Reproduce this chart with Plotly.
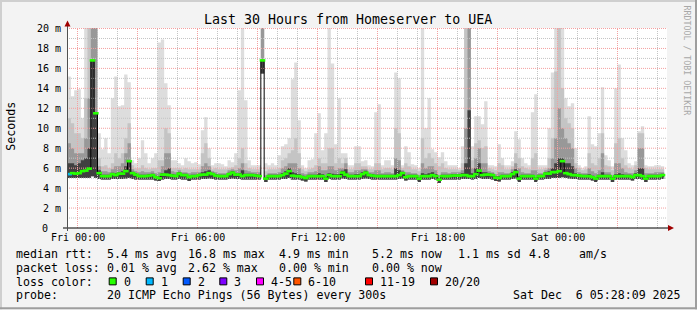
import plotly.graph_objects as go
import pandas as pd

# ---------------- data (10-minute bins, Thu 23:30 -> Sat 05:20) ----------------
median_ms = [
    5.4, 5.5, 5.45, 5.5, 5.7, 5.75, 5.95, 16.8, 11.5, 5.5,
    5.2, 5.2, 5.2, 5.4, 5.3, 5.45, 5.45, 5.7, 6.7, 5.5,
    5.35, 5.2, 5.2, 5.2, 5.25, 5.3, 5.1, 5.0, 5.35, 5.35,
    5.3, 5.25, 5.2, 5.45, 5.3, 5.3, 5.1, 5.2, 5.2, 5.3,
    5.35, 5.35, 5.5, 5.4, 5.25, 5.2, 5.2, 5.2, 5.4, 5.55,
    5.35, 5.35, 5.2, 5.3, 5.3, 5.3, 5.25, 5.2, 16.8, 4.95,
    5.2, 5.2, 5.2, 5.2, 5.3, 5.45, 5.7, 5.25, 5.2, 5.2,
    5.1, 5.0, 5.2, 5.2, 5.2, 5.2, 5.2, 4.95, 5.3, 5.2,
    5.2, 5.2, 5.55, 5.35, 5.2, 5.2, 5.2, 5.2, 5.4, 5.55,
    5.3, 5.25, 5.2, 5.2, 5.2, 5.2, 5.2, 5.2, 5.2, 5.3,
    5.5, 5.1, 5.2, 5.2, 5.2, 4.95, 5.2, 5.2, 5.2, 5.3,
    5.2, 4.85, 5.2, 5.2, 5.2, 5.25, 5.25, 5.25, 5.3, 5.3,
    5.2, 5.2, 5.4, 5.75, 5.3, 5.35, 5.35, 5.3, 5.05, 5.0,
    5.2, 5.2, 5.2, 5.4, 5.6, 4.95, 5.2, 5.2, 5.2, 5.2,
    4.95, 5.2, 5.2, 5.45, 5.45, 5.6, 5.6, 5.7, 6.7, 5.5,
    5.4, 5.3, 5.3, 5.25, 5.2, 5.2, 5.2, 5.1, 4.95, 5.2,
    5.2, 5.2, 5.2, 4.95, 5.2, 5.2, 5.2, 5.2, 5.2, 5.1,
    5.3, 5.3, 5.2, 4.95, 5.2, 5.2, 5.2, 5.2, 5.3]

smoke_max = [
    15.2, 13.2, 13.8, 13.9, 11.0, 20.5, 20.5, 20.5, 20.5, 9.5,
    7.9, 9.0, 7.5, 13.0, 15.2, 12.2, 12.3, 15.4, 14.6, 6.8,
    6.5, 7.0, 8.8, 7.5, 6.5, 7.0, 7.5, 18.6, 18.9, 14.5,
    12.3, 6.8, 6.8, 6.5, 6.3, 7.0, 6.7, 6.5, 6.6, 6.4,
    9.8, 11.1, 8.0, 6.3, 6.5, 6.5, 6.4, 6.2, 6.8, 6.6,
    7.5, 13.8, 20.5, 12.8, 6.8, 6.3, 6.3, 6.3, 20.5, 6.5,
    6.3, 6.5, 6.3, 7.3, 8.2, 8.4, 9.0, 14.9, 16.6, 10.8,
    6.3, 6.0, 6.8, 6.9, 9.5, 11.5, 7.8, 9.5, 20.5, 16.5,
    8.4, 13.0, 7.5, 7.5, 6.3, 6.3, 8.2, 8.2, 6.7, 6.8,
    6.3, 6.2, 11.6, 12.4, 6.3, 6.8, 6.8, 6.3, 15.6, 15.0,
    6.3, 8.2, 7.6, 6.4, 6.3, 6.0, 20.5, 10.0, 13.0, 7.9,
    7.6, 7.1, 7.6, 6.7, 6.3, 6.3, 6.3, 6.0, 8.2, 20.5,
    20.5, 8.2, 11.2, 11.2, 10.4, 12.7, 6.3, 6.3, 6.2, 8.4,
    7.0, 6.3, 6.3, 6.7, 9.7, 8.9, 7.0, 6.5, 6.3, 11.6,
    13.4, 6.3, 6.3, 6.3, 10.0, 15.6, 20.5, 20.5, 20.5, 13.0,
    12.2, 12.5, 8.0, 6.3, 6.0, 6.2, 11.2, 8.4, 8.2, 9.5,
    14.1, 7.3, 6.8, 6.2, 14.0, 16.4, 9.0, 7.8, 6.5, 6.3,
    6.7, 9.7, 10.2, 6.3, 6.2, 6.2, 6.3, 6.3, 6.2]

smoke_p2 = [
    11.0, 10.5, 9.5, 9.5, 9.0, 13.0, 20.5, 20.5, 20.5, 7.0,
    6.2, 6.3, 6.0, 6.5, 7.5, 7.0, 7.5, 9.0, 10.5, 6.3,
    6.0, 6.0, 6.3, 6.0, 5.9, 6.0, 6.0, 6.8, 6.8, 10.0,
    9.5, 6.0, 6.0, 6.0, 5.9, 6.0, 5.9, 5.9, 5.9, 5.9,
    7.5, 8.5, 7.0, 5.9, 6.0, 5.9, 5.9, 5.9, 6.0, 6.1,
    6.3, 7.0, 8.0, 6.5, 6.0, 5.9, 5.9, 5.9, 20.5, 5.7,
    5.9, 5.9, 5.9, 6.0, 6.8, 7.0, 7.5, 7.8, 9.0, 7.5,
    5.9, 5.7, 5.9, 6.0, 6.3, 7.0, 6.5, 6.5, 8.0, 8.0,
    6.5, 7.0, 6.5, 7.0, 5.9, 5.9, 6.5, 6.5, 6.2, 6.2,
    5.9, 5.9, 6.5, 6.5, 5.9, 6.0, 6.0, 5.9, 10.0, 9.5,
    6.0, 6.5, 6.2, 5.9, 5.9, 5.7, 9.0, 7.0, 7.5, 7.0,
    6.5, 6.2, 6.5, 6.0, 5.9, 5.9, 5.9, 5.8, 6.5, 20.5,
    20.5, 6.8, 8.5, 8.8, 8.0, 8.2, 6.0, 5.9, 5.8, 6.5,
    6.3, 5.9, 5.9, 6.2, 7.5, 7.0, 6.2, 6.0, 5.9, 7.0,
    7.5, 5.9, 5.9, 6.0, 7.0, 9.0, 15.7, 20.5, 14.0, 11.0,
    10.5, 10.0, 6.5, 6.0, 5.8, 5.9, 7.5, 6.5, 6.3, 7.0,
    9.5, 6.3, 6.2, 5.8, 8.5, 9.0, 7.0, 6.3, 6.0, 5.9,
    6.3, 9.5, 9.5, 6.0, 5.9, 5.9, 5.9, 5.9, 5.9]

smoke_p3 = [
    8.5, 8.0, 7.5, 7.5, 7.5, 9.0, 13.0, 20.5, 20.5, 6.2,
    5.7, 5.7, 5.6, 5.9, 6.2, 6.2, 6.5, 7.5, 8.5, 5.9,
    5.7, 5.6, 5.7, 5.6, 5.6, 5.7, 5.5, 5.6, 6.2, 7.5,
    7.5, 5.7, 5.6, 5.8, 5.6, 5.6, 5.5, 5.6, 5.6, 5.6,
    6.2, 6.5, 6.2, 5.7, 5.6, 5.5, 5.5, 5.5, 5.8, 5.9,
    5.8, 6.0, 6.5, 5.8, 5.7, 5.6, 5.6, 5.6, 20.5, 5.3,
    5.5, 5.5, 5.5, 5.6, 6.0, 6.2, 6.5, 6.5, 6.5, 6.0,
    5.5, 5.4, 5.6, 5.6, 5.7, 6.2, 5.8, 5.8, 6.2, 6.2,
    5.8, 6.0, 6.0, 6.5, 5.6, 5.6, 5.8, 5.8, 5.9, 5.9,
    5.6, 5.6, 5.8, 5.8, 5.5, 5.6, 5.6, 5.5, 7.0, 6.8,
    5.8, 5.6, 5.6, 5.5, 5.5, 5.3, 6.5, 6.0, 6.2, 6.2,
    5.8, 5.3, 5.6, 5.6, 5.5, 5.6, 5.6, 5.6, 5.8, 10.0,
    20.5, 6.0, 7.0, 8.0, 6.5, 6.5, 5.7, 5.6, 5.4, 5.6,
    5.6, 5.5, 5.5, 5.9, 6.5, 6.0, 5.6, 5.5, 5.5, 5.8,
    5.8, 5.5, 5.5, 5.8, 6.0, 7.0, 9.0, 12.0, 10.0, 9.0,
    8.5, 8.0, 6.0, 5.6, 5.5, 5.5, 6.0, 5.7, 5.5, 5.8,
    7.5, 5.6, 5.6, 5.3, 6.5, 6.5, 6.0, 5.6, 5.5, 5.5,
    5.8, 8.0, 8.0, 5.5, 5.5, 5.5, 5.6, 5.6, 5.6]

smoke_p4 = [
    6.5, 6.5, 6.3, 6.5, 6.8, 7.0, 8.0, 16.8, 11.5, 5.8,
    5.35, 5.35, 5.35, 5.55, 5.5, 5.6, 5.7, 6.2, 6.7, 5.65,
    5.5, 5.35, 5.35, 5.35, 5.4, 5.45, 5.25, 5.2, 5.5, 5.8,
    6.0, 5.4, 5.35, 5.6, 5.45, 5.45, 5.25, 5.35, 5.35, 5.45,
    5.6, 5.7, 5.8, 5.55, 5.4, 5.35, 5.35, 5.35, 5.55, 5.7,
    5.5, 5.5, 5.8, 5.45, 5.45, 5.45, 5.4, 5.35, 16.8, 5.1,
    5.35, 5.35, 5.35, 5.35, 5.5, 5.7, 6.0, 5.6, 5.5, 5.4,
    5.25, 5.15, 5.35, 5.35, 5.35, 5.5, 5.4, 5.15, 5.5, 5.45,
    5.4, 5.4, 5.75, 5.9, 5.35, 5.35, 5.4, 5.4, 5.6, 5.75,
    5.45, 5.4, 5.35, 5.35, 5.35, 5.35, 5.35, 5.35, 6.0, 5.8,
    5.65, 5.25, 5.35, 5.35, 5.35, 5.1, 5.5, 5.4, 5.5, 5.6,
    5.4, 5.0, 5.35, 5.35, 5.35, 5.4, 5.4, 5.4, 5.5, 6.5,
    11.8, 5.5, 6.0, 6.5, 5.6, 5.6, 5.5, 5.45, 5.2, 5.2,
    5.35, 5.35, 5.35, 5.6, 5.9, 5.2, 5.35, 5.35, 5.35, 5.35,
    5.1, 5.35, 5.35, 5.6, 5.7, 6.0, 6.5, 7.0, 7.0, 6.5,
    6.5, 6.2, 5.5, 5.4, 5.35, 5.35, 5.4, 5.25, 5.1, 5.35,
    5.6, 5.35, 5.35, 5.1, 5.4, 5.5, 5.4, 5.35, 5.35, 5.25,
    5.5, 6.0, 6.0, 5.1, 5.35, 5.35, 5.35, 5.35, 5.45]

smoke_low = [
    5.0, 5.0, 5.0, 5.0, 5.0, 5.0, 5.0, 5.2, 5.0, 4.9,
    4.85, 4.85, 4.85, 4.9, 4.9, 4.9, 4.9, 4.95, 5.0, 4.9,
    4.85, 4.85, 4.85, 4.85, 4.85, 4.85, 4.75, 4.7, 4.85, 4.9,
    4.9, 4.85, 4.85, 4.9, 4.85, 4.85, 4.7, 4.85, 4.85, 4.85,
    4.9, 4.9, 4.95, 4.9, 4.85, 4.85, 4.85, 4.85, 4.9, 4.95,
    4.9, 4.9, 4.85, 4.85, 4.85, 4.85, 4.85, 4.85, 15.5, 4.6,
    4.85, 4.85, 4.85, 4.85, 4.9, 4.9, 5.0, 4.85, 4.85, 4.85,
    4.75, 4.65, 4.85, 4.85, 4.85, 4.85, 4.85, 4.6, 4.9, 4.85,
    4.85, 4.85, 4.95, 4.9, 4.85, 4.85, 4.85, 4.85, 4.9, 4.95,
    4.9, 4.85, 4.85, 4.85, 4.85, 4.85, 4.85, 4.85, 4.85, 4.9,
    4.95, 4.75, 4.85, 4.85, 4.85, 4.6, 4.85, 4.85, 4.85, 4.9,
    4.85, 4.5, 4.85, 4.85, 4.85, 4.85, 4.85, 4.85, 4.9, 4.9,
    4.9, 4.85, 4.9, 5.0, 4.9, 4.9, 4.9, 4.85, 4.7, 4.65,
    4.85, 4.85, 4.85, 4.9, 4.95, 4.6, 4.85, 4.85, 4.85, 4.85,
    4.6, 4.85, 4.85, 4.9, 4.9, 5.0, 5.0, 5.0, 5.1, 5.0,
    4.95, 4.9, 4.9, 4.85, 4.85, 4.85, 4.85, 4.75, 4.6, 4.85,
    4.85, 4.85, 4.85, 4.6, 4.85, 4.85, 4.85, 4.85, 4.85, 4.75,
    4.9, 4.9, 4.85, 4.6, 4.85, 4.85, 4.85, 4.85, 4.9]

loss_cnt = [
    1, 0, 0, 0, 0, 0, 0, 0, 0, 0,
    0, 0, 0, 0, 0, 0, 0, 0, 0, 0,
    0, 0, 0, 0, 0, 0, 0, 0, 0, 0,
    0, 0, 0, 0, 0, 0, 0, 0, 0, 0,
    0, 0, 0, 0, 0, 0, 0, 0, 0, 0,
    0, 0, 0, 0, 0, 0, 0, 0, 0, 0,
    0, 0, 0, 0, 0, 0, 0, 0, 0, 0,
    0, 0, 0, 0, 0, 0, 0, 0, 0, 0,
    0, 0, 0, 0, 0, 0, 0, 0, 0, 0,
    0, 0, 0, 0, 0, 0, 0, 0, 0, 0,
    0, 0, 0, 0, 0, 0, 0, 0, 0, 0,
    0, 0, 0, 0, 0, 0, 0, 0, 0, 0,
    0, 0, 0, 0, 0, 0, 0, 0, 0, 0,
    0, 0, 0, 0, 0, 0, 0, 0, 0, 0,
    0, 0, 0, 0, 0, 0, 0, 0, 0, 0,
    0, 0, 0, 0, 0, 0, 0, 0, 0, 0,
    0, 0, 0, 0, 0, 0, 0, 0, 0, 0,
    0, 0, 0, 0, 0, 0, 0, 0, 0]

loss_labels = ["0", "1", "2", "3", "4-5", "6-10", "11-19", "20/20"]
loss_colors = ["#26ff00", "#00b8ff", "#0059ff", "#7e00ff", "#ff00ff", "#ff5500", "#ff0000", "#a10000"]

ytick_vals = [2, 4, 6, 8, 10, 12, 14, 16, 18, 20]
ytick_text = ["2 m", "4 m", "6 m", "8 m", "10 m", "12 m", "14 m", "16 m", "18 m", "20 m"]
ytick_zero = "0"
xtick_times = ["2025-12-05 00:00", "2025-12-05 06:00", "2025-12-05 12:00", "2025-12-05 18:00", "2025-12-06 00:00"]
xtick_text = ["Fri 00:00", "Fri 06:00", "Fri 12:00", "Fri 18:00", "Sat 00:00"]

legend_rows = [
    [("median rtt:", 16), ("5.4 ms avg", 107.3), ("16.8 ms max", 188.3), ("4.9 ms min", 279.3),
     ("5.2 ms now", 372.3), ("1.1 ms sd", 458.3), ("4.8", 529), ("am/s", 579.3)],
    [("packet loss:", 16), ("0.01 % avg", 107.3), ("2.62 % max", 188.3), ("0.00 % min", 279.3),
     ("0.00 % now", 372.3)],
    [("loss color:", 16)],
    [("probe:", 16), ("20 ICMP Echo Pings (56 Bytes) every 300s", 107.3),
     ("Sat Dec \u00a06 05:28:09 2025", 513.3)],
]
legend_row_y = [254.7, 268.3, 282.2, 296.0]
loss_box_x = [108.7, 145.7, 182.7, 219.3, 256.0, 293.3, 365.0, 430.0]

# ---------------- geometry ----------------
N = len(median_ms)
for arr in (smoke_max, smoke_p2, smoke_p3, smoke_p4, smoke_low, loss_cnt):
    assert len(arr) == N
t0 = pd.Timestamp("2025-12-04 23:30:00")
step = pd.Timedelta(minutes=10)
edges = [t0 + i * step for i in range(N + 1)]
centers = [t0 + i * step + step / 2 for i in range(N)]
x_lo = pd.Timestamp("2025-12-04 23:28:30")
x_hi = x_lo + pd.Timedelta(hours=30)
Y_TOP = 20.05

PL, PT, PW, PH = 67, 28, 600, 200.5


def px(x):
    return (x - PL) / PW


def py(y):
    return (PT + PH - y) / PH


def stepped(vals):
    return list(vals) + [vals[-1]]


fig = go.Figure()

# smoke bands
bands = [(smoke_max, "#dddddd"), (smoke_p2, "#c4c4c4"), (smoke_p3, "#989898"), (smoke_p4, "#404040")]
for top, col in bands:
    fig.add_trace(go.Scatter(x=edges, y=stepped(smoke_low), mode="lines",
                             line=dict(width=0, shape="hv"), hoverinfo="skip"))
    fig.add_trace(go.Scatter(x=edges, y=stepped(top), mode="lines",
                             line=dict(width=0, shape="hv"), fill="tonexty",
                             fillcolor=col, hoverinfo="skip"))

# grid (drawn over the smoke like rrdtool)
fri0 = pd.Timestamp("2025-12-05 00:00")
vmaj_x, vmaj_y, vmin_x, vmin_y = [], [], [], []
for h in range(30):
    t = fri0 + pd.Timedelta(hours=h)
    if t > x_hi:
        break
    if h % 3 == 0:
        vmaj_x += [t, t, None]; vmaj_y += [0, Y_TOP, None]
    else:
        vmin_x += [t, t, None]; vmin_y += [0, Y_TOP, None]
hmaj_x, hmaj_y, hmin_x, hmin_y = [], [], [], []
for k in range(1, 21):
    if k % 2 == 0:
        hmaj_x += [x_lo, x_hi, None]; hmaj_y += [k, k, None]
    else:
        hmin_x += [x_lo, x_hi, None]; hmin_y += [k, k, None]
GRID = "#c4c4c4"
MGRID = "#f4a0a0"
for xs, ys, c in [(vmin_x, vmin_y, GRID), (hmin_x, hmin_y, GRID), (vmaj_x, vmaj_y, MGRID), (hmaj_x, hmaj_y, MGRID)]:
    fig.add_trace(go.Scatter(x=xs, y=ys, mode="lines", line=dict(color=c, width=1, dash="1px,1px"),
                             hoverinfo="skip", connectgaps=False))

# median: black step line + loss-coloured dashes
fig.add_trace(go.Scatter(x=edges, y=stepped(median_ms), mode="lines",
                         line=dict(color="#000000", width=1, shape="hv"), hoverinfo="skip"))
fig.add_trace(go.Scatter(x=centers, y=median_ms, mode="markers",
                         marker=dict(symbol="line-ew", size=4,
                                     line=dict(width=2.6, color=[loss_colors[c] for c in loss_cnt])),
                         hoverinfo="skip", cliponaxis=True))

MONO = "DejaVu Sans Mono"
ann = []


def text(t, x, y, size, xanchor="left", color="#000000", angle=0, xref="paper", yref="paper"):
    ann.append(dict(text=t, x=x, y=y, xref=xref, yref=yref, xanchor=xanchor, yanchor="middle",
                    showarrow=False, textangle=angle, borderpad=0, borderwidth=0,
                    font=dict(family=MONO, size=size, color=color)))


text("Last 30 Hours from Homeserver to UEA", px(348), py(19), 13.3, "center")
for v, tt in zip(ytick_vals, ytick_text):
    text(tt, px(61), v, 10, "right", yref="y")
text(ytick_zero, px(45), 0, 10, "center", yref="y")
for t, tt in zip(xtick_times, xtick_text):
    text(tt, pd.Timestamp(t), py(237.8), 10, "center", xref="x")
text("Seconds", px(11), py(127), 11.6, "center", angle=-90)
text("RRDTOOL / TOBI OETIKER", px(687.5), py(60), 8.3, "center", color="#a8a8a8", angle=90)
for row, yy in zip(legend_rows, legend_row_y):
    for s, xx in row:
        text(s, px(xx - 0.5), py(yy), 11.6)
for lab, col, bx in zip(loss_labels, loss_colors, loss_box_x):
    text(lab, px(bx + 15.3 - 0.5), py(legend_row_y[2]), 11.6)

shapes = []
for lab, col, bx in zip(loss_labels, loss_colors, loss_box_x):
    shapes.append(dict(type="rect", xref="paper", yref="paper", x0=px(bx + 0.5), x1=px(bx + 7.5),
                       y0=py(278.5), y1=py(285.5), fillcolor=col, line=dict(color="#000000", width=1)))


def pth(pts):
    return "M " + " L ".join(f"{px(a):.5f},{py(b):.5f}" for a, b in pts) + " Z"


# axes + arrows
shapes.append(dict(type="line", xref="paper", yref="paper", x0=px(63), x1=px(669), y0=py(228.5), y1=py(228.5),
                   line=dict(color="#000000", width=1), layer="above"))
shapes.append(dict(type="line", xref="paper", yref="paper", x0=px(67.5), x1=px(67.5), y0=py(231.5), y1=py(26),
                   line=dict(color="#505050", width=1), layer="above"))
shapes.append(dict(type="path", xref="paper", yref="paper", path=pth([(668, 225.5), (668, 231.5), (674, 228.5)]),
                   fillcolor="#a00000", line=dict(width=0), layer="above"))
shapes.append(dict(type="path", xref="paper", yref="paper", path=pth([(64.5, 26.5), (70.5, 26.5), (67.5, 20.5)]),
                   fillcolor="#a00000", line=dict(width=0), layer="above"))
# frame (3-D border)
shapes.append(dict(type="rect", xref="paper", yref="paper", x0=px(0), x1=px(697), y0=py(0), y1=py(2),
                   fillcolor="#cfcfcf", line=dict(width=0), layer="above"))
shapes.append(dict(type="rect", xref="paper", yref="paper", x0=px(0), x1=px(2), y0=py(0), y1=py(310),
                   fillcolor="#cfcfcf", line=dict(width=0), layer="above"))
shapes.append(dict(type="rect", xref="paper", yref="paper", x0=px(695), x1=px(697), y0=py(0), y1=py(310),
                   fillcolor="#9e9e9e", line=dict(width=0), layer="above"))
shapes.append(dict(type="rect", xref="paper", yref="paper", x0=px(0), x1=px(697), y0=py(308), y1=py(310),
                   fillcolor="#9e9e9e", line=dict(width=0), layer="above"))

fig.update_layout(
    width=697, height=310,
    margin=dict(l=PL, r=697 - PL - PW, t=PT, b=310 - PT - PH, pad=0),
    paper_bgcolor="#f3f3f3", plot_bgcolor="#ffffff",
    showlegend=False,
    xaxis=dict(type="date", range=[x_lo, x_hi], visible=False, fixedrange=True),
    yaxis=dict(range=[0, Y_TOP], visible=False, fixedrange=True),
    annotations=ann, shapes=shapes,
)

fig.write_html("out.html")
